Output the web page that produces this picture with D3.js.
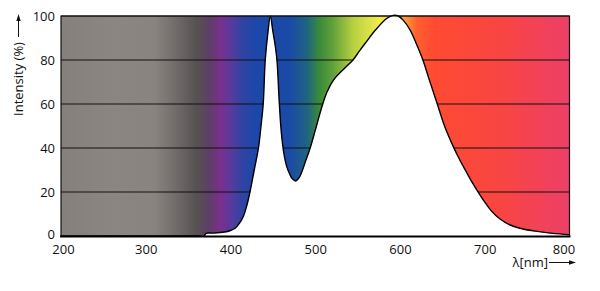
<!DOCTYPE html>
<html><head><meta charset="utf-8">
<script src="https://cdn.jsdelivr.net/npm/d3@7"></script>
<style>
html,body{margin:0;padding:0;background:#fff;}
svg{display:block;font-family:"Open Sans","DejaVu Sans",sans-serif;}
</style></head>
<body>
<svg id="chart" width="600" height="291"></svg>
<script>
// Spectrum data (wavelength in nm, relative intensity in %)
const wavelengths = [200,300,360,369,371,380,393,400,405.5,410,415,419,423,428,433,436,438.6,441,444,447,450,453,455,457.5,460,463,466,470,473,477,481,485,489,494,500,508,514,521.7,530,538,544.5,552,559,571,584.6,592,598,604,612,619,627,635,644,653,663,670,677,685,693,700,708,718,730,745,760,780,800];
const intensity   = [0,0,0,0,1.2,1.3,1.8,2.5,3.5,5.5,8.8,13.5,20,30,40,50,60,80,92,100,93,86,79,61,47,37.5,32,28,26,25,26.5,30,34.5,40,48,59,65.6,71,74.5,77.5,80,84,87.6,93.6,99,100.3,100,98,93.6,87.6,80,70.5,60,49.5,40.5,35,30,24.5,19.5,15.4,11.3,7.7,5,3.2,2.2,1.2,0.6];
const xTicks = [200,300,400,500,600,700,800];
const yTicks = [0,20,40,60,80,100];
const gridValues = [20,40,60,80,100];
// background spectrum colour stops (nm, colour)
const stopNm     = [200,260,310,340,360,375,388,400,415,430,470,490,505,520,545,575,590,605,620,640,720,800];
const stopColors = ["#86807c","#8c8682","#8a8480","#6c6666","#575252","#5c3f66","#7b2f8c","#5a3a9c","#2e44a4","#1b48aa","#1a4aa6","#1e6482","#3a8a3a","#5ea03a","#b8d040","#f0ec50","#f8cc40","#ffa035","#ff6030","#ff4a32","#f84542","#ec4068"];

const svg = d3.select("#chart");
const x = d3.scaleLinear().domain([200,800]).range([61,569.5]);
const y = d3.scaleLinear().domain([0,100]).range([236,16]);

const defs = svg.append("defs");
const grad = defs.append("linearGradient").attr("id","spec")
  .attr("gradientUnits","userSpaceOnUse")
  .attr("x1",x(200)).attr("x2",x(800)).attr("y1",0).attr("y2",0);
stopNm.forEach((nm,i)=>{
  grad.append("stop").attr("offset",(nm-200)/600).attr("stop-color",stopColors[i]);
});
defs.append("clipPath").attr("id","plotclip").append("rect")
  .attr("x",x(200)).attr("y",y(100)-2).attr("width",x(800)-x(200)).attr("height",y(0)-y(100)+2);

// background
svg.append("rect").attr("x",x(200)).attr("y",y(100))
  .attr("width",x(800)-x(200)).attr("height",y(0)-y(100))
  .attr("fill","url(#spec)");

// grid lines
svg.append("g").selectAll("line").data(gridValues).join("line")
  .attr("x1",x(200)).attr("x2",x(800))
  .attr("y1",d=>y(d)).attr("y2",d=>y(d))
  .attr("stroke","#111").attr("stroke-width",1.1);

const pts = wavelengths.map((w,i)=>[w,intensity[i]]);
const crv = d3.curveCatmullRom.alpha(0.5);
const area = d3.area().x(d=>x(d[0])).y0(y(0)).y1(d=>y(d[1])).curve(crv);
const line = d3.line().x(d=>x(d[0])).y(d=>y(d[1])).curve(crv);

const gp = svg.append("g").attr("clip-path","url(#plotclip)");
gp.append("path").datum(pts).attr("d",area).attr("fill","#fff");
gp.append("path").datum(pts).attr("d",line).attr("fill","none")
  .attr("stroke","#000").attr("stroke-width",1.4).attr("stroke-linejoin","round");

// border (left, top, right)
svg.append("path")
  .attr("d",`M${x(200)},${y(0)}V${y(100)}H${x(800)}V${y(0)}`)
  .attr("fill","none").attr("stroke","#111").attr("stroke-width",1.2);
// bottom axis line
svg.append("line").attr("x1",x(200)-1).attr("x2",x(800)+1)
  .attr("y1",y(0)+0.5).attr("y2",y(0)+0.5)
  .attr("stroke","#000").attr("stroke-width",2);

// axes labels using d3 axes (no tick lines)
const xAxis = d3.axisBottom(x).tickValues(xTicks).tickSize(0).tickPadding(8).tickFormat(d3.format("d"));
const gx = svg.append("g").attr("transform",`translate(0,${y(0)+1})`).call(xAxis);
gx.select(".domain").remove();
gx.selectAll("text").attr("font-size",13).attr("fill","#111")
  .attr("font-family","'Open Sans','DejaVu Sans',sans-serif")
  .attr("dx",d=>d===800?-6:(d===200?2:0));

const yAxis = d3.axisLeft(y).tickValues(yTicks).tickSize(0).tickPadding(6).tickFormat(d3.format("d"));
const gy = svg.append("g").attr("transform",`translate(${x(200)},0)`).call(yAxis);
gy.select(".domain").remove();
gy.selectAll("text").attr("font-size",13).attr("fill","#111")
  .attr("font-family","'Open Sans','DejaVu Sans',sans-serif")
  .attr("dy",d=>d===0?"0.2em":"0.32em");

// y title with arrow
svg.append("text").attr("transform","translate(23,79) rotate(-90)")
  .attr("text-anchor","middle").attr("font-size",13).attr("fill","#111")
  .text("Intensity (%)");
svg.append("line").attr("x1",18.5).attr("x2",18.5).attr("y1",37).attr("y2",19)
  .attr("stroke","#111").attr("stroke-width",1);
svg.append("path").attr("d","M18.5,14 L16.3,21 L20.7,21 Z").attr("fill","#111");

// x title with arrow
svg.append("text").attr("x",548).attr("y",267).attr("text-anchor","end")
  .attr("font-size",13).attr("fill","#111").text("λ[nm]");
svg.append("line").attr("x1",549).attr("x2",570).attr("y1",262.5).attr("y2",262.5)
  .attr("stroke","#111").attr("stroke-width",1);
svg.append("path").attr("d","M576,262.5 L569,260.3 L569,264.7 Z").attr("fill","#111");
</script>
</body></html>
